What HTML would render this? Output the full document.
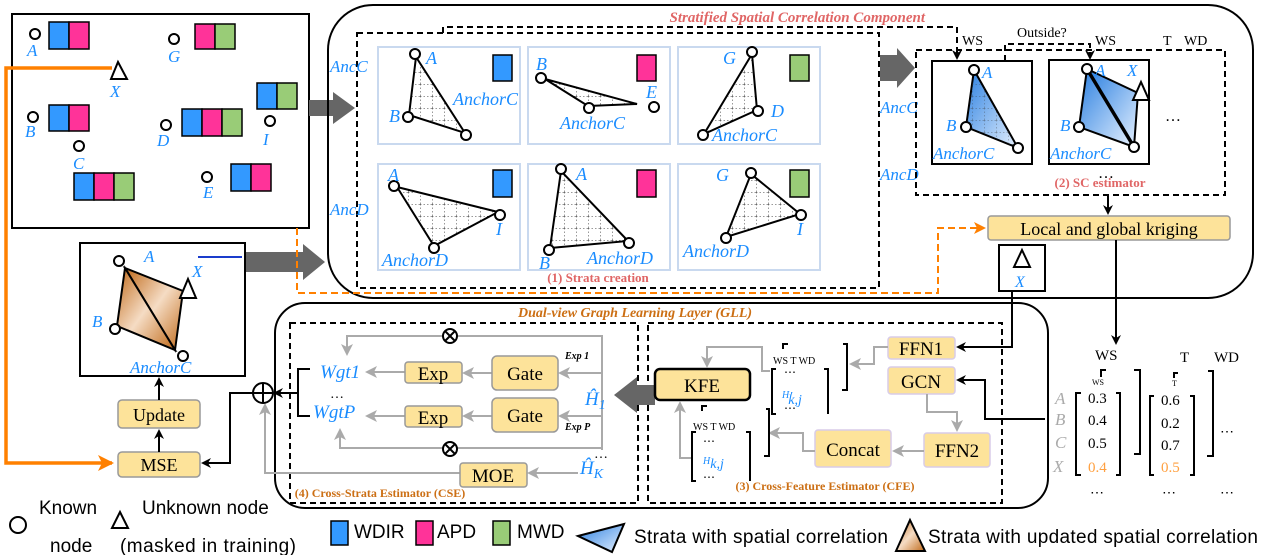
<!DOCTYPE html>
<html><head><meta charset="utf-8"><style>
html,body{margin:0;padding:0;background:#fff;}
svg{display:block;}
text{font-family:"Liberation Serif",serif;}
.bl{fill:#1a8cff;font-style:italic;}
.sn text{font-family:"Liberation Sans",sans-serif;}
</style></head><body>
<svg width="1261" height="555" viewBox="0 0 1261 555" xmlns="http://www.w3.org/2000/svg">
<defs>
<marker id="ab" markerWidth="10" markerHeight="10" refX="8" refY="5" orient="auto" markerUnits="userSpaceOnUse"><path d="M0,0 L10,5 L0,10 L3,5 z" fill="#000"/></marker>
<marker id="ag" markerWidth="12" markerHeight="12" refX="10" refY="6" orient="auto" markerUnits="userSpaceOnUse"><path d="M0,0 L12,6 L0,12 L3,6 z" fill="#aaa"/></marker>
<marker id="ao" markerWidth="16" markerHeight="16" refX="14" refY="8" orient="auto" markerUnits="userSpaceOnUse"><path d="M0,0 L16,8 L0,16 L4,8 z" fill="#ff8000"/></marker>
<marker id="aod" markerWidth="12" markerHeight="12" refX="10" refY="6" orient="auto" markerUnits="userSpaceOnUse"><path d="M0,0 L12,6 L0,12 L3,6 z" fill="#ff8000"/></marker>
<linearGradient id="gb" x1="0" y1="0" x2="1" y2="1"><stop offset="0" stop-color="#2a7fe0"/><stop offset="1" stop-color="#e6f1ff"/></linearGradient>
<linearGradient id="go" x1="0" y1="0" x2="1" y2="1"><stop offset="0" stop-color="#c06a1a"/><stop offset="0.5" stop-color="#f5dcc4"/><stop offset="1" stop-color="#c06a1a"/></linearGradient>
<pattern id="dot" width="12" height="12" patternUnits="userSpaceOnUse"><path d="M0,0 H12 M0,0 V12" stroke="#333" stroke-width="1" stroke-dasharray="1.5,2" fill="none"/></pattern>
</defs>

<rect x="12" y="14" width="297" height="214" fill="#fff" stroke="#000" stroke-width="2"/>
<g stroke="#000" stroke-width="1.5">
<rect x="49" y="22" width="20" height="27" fill="#3399ff"/><rect x="69" y="22" width="20" height="27" fill="#ff3399"/>
<rect x="195" y="24" width="20" height="25" fill="#ff3399"/><rect x="215" y="24" width="20" height="25" fill="#99cc77"/>
<rect x="49" y="105" width="20" height="26" fill="#3399ff"/><rect x="69" y="105" width="20" height="26" fill="#ff3399"/>
<rect x="182" y="109" width="20" height="27" fill="#3399ff"/><rect x="202" y="109" width="20" height="27" fill="#ff3399"/><rect x="222" y="109" width="20" height="27" fill="#99cc77"/>
<rect x="257" y="83" width="20" height="26" fill="#3399ff"/><rect x="277" y="83" width="20" height="26" fill="#99cc77"/>
<rect x="74" y="173" width="20" height="27" fill="#3399ff"/><rect x="94" y="173" width="20" height="27" fill="#ff3399"/><rect x="114" y="173" width="20" height="27" fill="#99cc77"/>
<rect x="231" y="164" width="20" height="27" fill="#3399ff"/><rect x="251" y="164" width="20" height="27" fill="#ff3399"/>
</g>
<g fill="#fff" stroke="#000" stroke-width="2">
<circle cx="35" cy="34" r="5"/><circle cx="174" cy="39" r="5"/><circle cx="33" cy="117" r="5"/><circle cx="166" cy="125" r="5"/><circle cx="270" cy="121" r="5"/><circle cx="79" cy="146" r="5"/><circle cx="207" cy="177" r="5"/>
<path d="M118,62 L127,79 L111,79 z"/>
</g>
<g class="bl" font-size="17">
<text x="27" y="56">A</text><text x="168" y="62">G</text><text x="110" y="97">X</text><text x="25" y="137">B</text><text x="157" y="146">D</text><text x="263" y="145">I</text><text x="73" y="169">C</text><text x="203" y="198">E</text>
</g>
<path d="M112,68 H6 V463 H112" fill="none" stroke="#ff8000" stroke-width="3.5" marker-end="url(#ao)"/>

<path d="M309,100 H333 V92 L355,108 L333,124 V116 H309 z" fill="#666"/>
<path d="M245,252 H303 V244 L325,262 L303,280 V272 H245 z" fill="#666"/>

<rect x="80" y="243" width="165" height="133" fill="#fff" stroke="#000" stroke-width="2"/>
<line x1="198" y1="257" x2="242" y2="257" stroke="#1a3ccc" stroke-width="2"/>
<path d="M125,268 L183,291 L175,350 z" fill="url(#go)" stroke="#000" stroke-width="2"/>
<path d="M125,268 L117,326 L175,350 z" fill="url(#go)" stroke="#000" stroke-width="2"/>
<g fill="#fff" stroke="#000" stroke-width="2"><circle cx="119" cy="261" r="5"/><circle cx="115" cy="329" r="5"/><circle cx="183" cy="356" r="5"/><path d="M188,279 L196,298 L180,298 z"/></g>
<g class="bl" font-size="17"><text x="144" y="262">A</text><text x="192" y="277">X</text><text x="92" y="327">B</text><text x="130" y="373">AnchorC</text></g>

<rect x="118" y="400" width="82" height="28" rx="4" fill="#fde39a" stroke="#999" stroke-width="1.5"/>
<text x="159" y="421" font-size="18" text-anchor="middle">Update</text>
<rect x="118" y="452" width="82" height="25" rx="4" fill="#fde39a" stroke="#999" stroke-width="1.5"/>
<text x="159" y="471" font-size="18" text-anchor="middle">MSE</text>
<line x1="159" y1="452" x2="159" y2="431" stroke="#000" stroke-width="2" marker-end="url(#ab)"/>
<line x1="159" y1="400" x2="159" y2="379" stroke="#000" stroke-width="2" marker-end="url(#ab)"/>

<rect x="328" y="5" width="925" height="293" rx="45" fill="none" stroke="#000" stroke-width="2"/>
<text x="925" y="22" font-size="15" font-weight="bold" font-style="italic" fill="#e06666" text-anchor="end">Stratified Spatial Correlation Component</text>
<rect x="357" y="33" width="522" height="255" fill="none" stroke="#000" stroke-width="2" stroke-dasharray="6,4"/>
<path d="M443,33 V27 H957 V58" fill="none" stroke="#000" stroke-width="2" stroke-dasharray="6,4" marker-end="url(#ab)"/>
<path d="M1005,61 V44 H1090 V58" fill="none" stroke="#000" stroke-width="2" stroke-dasharray="6,4" marker-end="url(#ab)"/>
<path d="M297,228 V293 H938 V228 H984" fill="none" stroke="#ff8000" stroke-width="2" stroke-dasharray="7,4" marker-end="url(#aod)"/>
<g class="bl" font-size="17"><text x="330" y="72">AncC</text><text x="330" y="215">AncD</text><text x="880" y="113">AncC</text><text x="880" y="180">AncD</text></g>

<g fill="#fff" stroke="#c9d9ef" stroke-width="2">
<rect x="378" y="47" width="142" height="97"/><rect x="528" y="47" width="142" height="97"/><rect x="678" y="47" width="142" height="97"/>
<rect x="378" y="164" width="142" height="106"/><rect x="528" y="164" width="142" height="106"/><rect x="678" y="164" width="142" height="106"/>
</g>
<g stroke="#000" stroke-width="1.5">
<rect x="493" y="55" width="19" height="26" fill="#3399ff"/><rect x="637" y="55" width="19" height="26" fill="#ff3399"/><rect x="790" y="55" width="19" height="26" fill="#99cc77"/>
<rect x="493" y="170" width="19" height="27" fill="#3399ff"/><rect x="637" y="170" width="19" height="27" fill="#ff3399"/><rect x="790" y="170" width="19" height="27" fill="#99cc77"/>
</g>
<g fill="url(#dot)" stroke="#000" stroke-width="2">
<path d="M416,57 L409,115 L465,133 z"/>
<path d="M545,79 L588,106 L637,104 z"/>
<path d="M752,54 L757,110 L704,134 z"/>
<path d="M397,187 L498,212 L434,246 z"/>
<path d="M561,171 L550,248 L628,241 z"/>
<path d="M751,174 L800,214 L726,237 z"/>
</g>
<g fill="#fff" stroke="#000" stroke-width="2">
<circle cx="415" cy="54" r="5"/><circle cx="408" cy="117" r="5"/><circle cx="466" cy="135" r="5"/>
<circle cx="541" cy="78" r="5"/><circle cx="589" cy="108" r="5"/><circle cx="654" cy="107" r="5"/>
<circle cx="752" cy="52" r="5"/><circle cx="758" cy="111" r="5"/><circle cx="703" cy="135" r="5"/>
<circle cx="394" cy="186" r="5"/><circle cx="500" cy="215" r="5"/><circle cx="434" cy="248" r="5"/>
<circle cx="561" cy="169" r="5"/><circle cx="549" cy="250" r="5"/><circle cx="629" cy="243" r="5"/>
<circle cx="751" cy="173" r="5"/><circle cx="801" cy="215" r="5"/><circle cx="726" cy="238" r="5"/>
</g>
<g class="bl" font-size="18">
<text x="426" y="64">A</text><text x="389" y="122">B</text><text x="453" y="105">AnchorC</text>
<text x="536" y="70">B</text><text x="646" y="98">E</text><text x="560" y="129">AnchorC</text>
<text x="723" y="64">G</text><text x="771" y="117">D</text><text x="712" y="141">AnchorC</text>
<text x="388" y="181">A</text><text x="496" y="235">I</text><text x="382" y="266">AnchorD</text>
<text x="576" y="180">A</text><text x="539" y="269">B</text><text x="587" y="264">AnchorD</text>
<text x="716" y="181">G</text><text x="797" y="235">I</text><text x="683" y="257">AnchorD</text>
</g>
<text x="598" y="282" font-size="13" font-weight="bold" fill="#e06666" text-anchor="middle">(1)  Strata creation</text>

<path d="M880,55 H897 V48 L915,68 L897,88 V81 H880 z" fill="#666"/>
<rect x="916" y="50" width="309" height="145" fill="none" stroke="#000" stroke-width="2" stroke-dasharray="6,4"/>
<rect x="932" y="61" width="100" height="103" fill="#fff" stroke="#000" stroke-width="2"/>
<rect x="1049" y="60" width="100" height="104" fill="#fff" stroke="#000" stroke-width="2"/>
<path d="M974,70 L966,127 L1018,148 z" fill="url(#gb)" stroke="#000" stroke-width="2"/>
<path d="M974,70 L966,127 L1018,148 z" fill="url(#dot)" opacity="0.6"/>
<path d="M1087,69 L1138,93 L1134,147 z" fill="url(#gb)" stroke="#000" stroke-width="2"/>
<path d="M1087,69 L1079,127 L1134,147 z" fill="url(#gb)" stroke="#000" stroke-width="2"/>
<line x1="1087" y1="69" x2="1134" y2="147" stroke="#000" stroke-width="3.5"/>
<g fill="#fff" stroke="#000" stroke-width="2"><circle cx="974" cy="70" r="5"/><circle cx="966" cy="127" r="5"/><circle cx="1018" cy="148" r="5"/><circle cx="1087" cy="69" r="5"/><circle cx="1079" cy="127" r="5"/><circle cx="1134" cy="147" r="5"/><path d="M1141,82 L1149,100 L1133,100 z"/></g>
<g class="bl" font-size="17"><text x="982" y="78">A</text><text x="946" y="131">B</text><text x="933" y="159">AnchorC</text><text x="1095" y="76">A</text><text x="1127" y="76">X</text><text x="1060" y="131">B</text><text x="1050" y="159">AnchorC</text></g>
<text x="1165" y="121" font-size="16">…</text>
<text x="1098" y="178" font-size="16">…</text>
<text x="1100" y="187" font-size="13" font-weight="bold" fill="#e06666" text-anchor="middle">(2) SC estimator</text>
<g font-size="14"><text x="962" y="45">WS</text><text x="1017" y="37">Outside?</text><text x="1095" y="45">WS</text><text x="1163" y="45">T</text><text x="1184" y="45">WD</text></g>
<line x1="1108" y1="195" x2="1108" y2="213" stroke="#000" stroke-width="2" marker-end="url(#ab)"/>
<rect x="988" y="216" width="242" height="24" rx="3" fill="#fde39a" stroke="#999" stroke-width="1.5"/>
<text x="1109" y="235" font-size="18" text-anchor="middle">Local and global kriging</text>
<rect x="999" y="245" width="46" height="46" fill="#fff" stroke="#000" stroke-width="2"/>
<path d="M1022,250 L1030,267 L1014,267 z" fill="#fff" stroke="#000" stroke-width="2"/>
<text x="1015" y="287" class="bl" font-size="16">X</text>
<line x1="1116" y1="240" x2="1116" y2="343" stroke="#000" stroke-width="2" marker-end="url(#ab)"/>
<path d="M1012,291 V347 H958" fill="none" stroke="#000" stroke-width="2" marker-end="url(#ab)"/>

<rect x="275" y="303" width="773" height="205" rx="30" fill="none" stroke="#000" stroke-width="2"/>
<text x="635" y="317" font-size="14" font-weight="bold" font-style="italic" fill="#cc6f14" text-anchor="middle">Dual-view Graph Learning Layer (GLL)</text>
<rect x="290" y="323" width="348" height="180" fill="none" stroke="#000" stroke-width="2" stroke-dasharray="6,4"/>
<rect x="648" y="323" width="354" height="180" fill="none" stroke="#000" stroke-width="2" stroke-dasharray="6,4"/>

<g fill="none" stroke="#aaa" stroke-width="2">
<path d="M602,335 V450"/>
<path d="M602,336 H347 V354" marker-end="url(#ag)"/>
<path d="M602,448 H340 V430" marker-end="url(#ag)"/>
<path d="M602,373 H560" marker-end="url(#ag)"/>
<path d="M602,416 H560" marker-end="url(#ag)"/>
<path d="M492,373 H464" marker-end="url(#ag)"/>
<path d="M492,416 H464" marker-end="url(#ag)"/>
<path d="M405,372 H367" marker-end="url(#ag)"/>
<path d="M405,416 H367" marker-end="url(#ag)"/>
<path d="M578,473 H529" marker-end="url(#ag)"/>
<path d="M460,473 H265 V405" marker-end="url(#ag)"/>
</g>
<g fill="#fff" stroke="#000" stroke-width="2"><circle cx="450" cy="336" r="7"/><circle cx="450" cy="449" r="7"/></g>
<g stroke="#000" stroke-width="2"><path d="M445,331 L455,341 M455,331 L445,341 M445,444 L455,454 M455,444 L445,454"/></g>
<rect x="492" y="356" width="66" height="34" rx="5" fill="#fde39a" stroke="#999" stroke-width="1.5"/>
<rect x="492" y="398" width="66" height="34" rx="5" fill="#fde39a" stroke="#999" stroke-width="1.5"/>
<rect x="405" y="362" width="57" height="21" rx="3" fill="#fde39a" stroke="#999" stroke-width="1.5"/>
<rect x="405" y="406" width="57" height="21" rx="3" fill="#fde39a" stroke="#999" stroke-width="1.5"/>
<rect x="460" y="463" width="67" height="24" rx="3" fill="#fde39a" stroke="#999" stroke-width="1.5"/>
<g font-size="19" text-anchor="middle"><text x="525" y="380">Gate</text><text x="525" y="422">Gate</text><text x="433" y="380">Exp</text><text x="433" y="424">Exp</text><text x="493" y="482">MOE</text></g>
<g font-size="10" font-weight="bold" font-style="italic"><text x="565" y="359">Exp 1</text><text x="565" y="430">Exp P</text></g>
<g class="bl" font-size="19"><text x="320" y="378">Wgt1</text><text x="313" y="418">WgtP</text><text x="585" y="405">Ĥ<tspan font-size="14" dy="4">1</tspan></text><text x="580" y="474">Ĥ<tspan font-size="14" dy="4">K</tspan></text></g>
<text x="330" y="398" font-size="14">…</text>
<text x="594" y="458" font-size="14">…</text>
<text x="380" y="497" font-size="12" font-weight="bold" fill="#cc6f14" text-anchor="middle">(4) Cross-Strata Estimator (CSE)</text>
<path d="M310,369 H298 V416 H310" fill="none" stroke="#000" stroke-width="2"/>
<line x1="298" y1="393" x2="275" y2="393" stroke="#000" stroke-width="2" marker-end="url(#ab)"/>
<circle cx="263" cy="393" r="10" fill="#fff" stroke="#000" stroke-width="2"/>
<path d="M253,393 H273 M263,383 V403" stroke="#000" stroke-width="2"/>
<path d="M253,393 H230 V463 H203" fill="none" stroke="#000" stroke-width="2" marker-end="url(#ab)"/>

<path d="M655,385 H637 V377 L614,395 L637,413 V405 H655 z" fill="#666"/>

<rect x="655" y="369" width="95" height="31" rx="5" fill="#fde39a" stroke="#000" stroke-width="2.5"/>
<text x="702" y="392" font-size="19" text-anchor="middle">KFE</text>
<g fill="#fde39a" stroke="#d8cce8" stroke-width="1.5">
<rect x="888" y="337" width="67" height="22" rx="3"/><rect x="888" y="367" width="67" height="27" rx="3"/><rect x="924" y="433" width="66" height="34" rx="3"/><rect x="815" y="430" width="76" height="37" rx="3"/>
</g>
<g font-size="19" text-anchor="middle"><text x="921" y="355">FFN1</text><text x="921" y="388">GCN</text><text x="957" y="457">FFN2</text><text x="853" y="456">Concat</text></g>
<g fill="none" stroke="#aaa" stroke-width="2">
<path d="M888,347 H874 V364 H851" marker-end="url(#ag)"/>
<path d="M927,394 V412 H957 V430" marker-end="url(#ag)"/>
<path d="M924,451 H894" marker-end="url(#ag)"/>
<path d="M815,451 H803 V433 H770" marker-end="url(#ag)"/>
<path d="M770,371 H762 V347 H707 V366" marker-end="url(#ag)"/>
<path d="M693,458 H680 V403" marker-end="url(#ag)"/>
</g>
<g fill="none" stroke="#000" stroke-width="2">
<path d="M783,349 V344 H788 M843,344 H847 V390 H842"/>
<path d="M776,369 H772 V414 H776 M824,369 H828 V414"/>
<path d="M702,411 V406 H707 M766,409 H769 V456 H764"/>
<path d="M696,432 H692 V481 H696 M746,432 H750 V481"/>
</g>
<g font-size="10"><text x="773" y="364">WS T WD</text><text x="693" y="430">WS T WD</text></g>
<text x="784" y="376" font-size="12">⋯</text><text x="784" y="412" font-size="12">⋯</text>
<text x="703" y="445" font-size="12">⋯</text><text x="703" y="481" font-size="12">⋯</text>
<text x="782" y="398" class="bl" font-size="10">H<tspan font-size="14" dy="3">′</tspan><tspan font-size="14" dx="-4" dy="3">k,j</tspan></text>
<text x="703" y="464" class="bl" font-size="10">H<tspan font-size="14" dy="4">k,j</tspan></text>
<text x="825" y="490" font-size="12" font-weight="bold" fill="#cc6f14" text-anchor="middle">(3) Cross-Feature Estimator (CFE)</text>

<path d="M1045,419 H985 V380 H958" fill="none" stroke="#000" stroke-width="2" marker-end="url(#ab)"/>

<g font-size="15"><text x="1095" y="360">WS</text><text x="1180" y="362">T</text><text x="1214" y="362">WD</text></g>
<g font-size="17" font-style="italic" fill="#aaa"><text x="1055" y="404">A</text><text x="1055" y="425">B</text><text x="1055" y="448">C</text><text x="1053" y="472">X</text></g>
<g fill="none" stroke="#000" stroke-width="2">
<path d="M1081,393 H1076 V475 H1081 M1116,393 H1120 V475 H1116"/>
<path d="M1154,396 H1150 V475 H1154 M1190,396 H1194 V475 H1190"/>
<path d="M1101,377 V370 H1106 M1134,370 H1140 V454 H1134"/>
<path d="M1174,378 V373 H1178 M1208,371 H1213 V456 H1207"/>
</g>
<g font-size="8"><text x="1092" y="385">WS</text><text x="1172" y="386">T</text></g>
<g font-size="15"><text x="1088" y="403">0.3</text><text x="1088" y="425">0.4</text><text x="1088" y="448">0.5</text><text x="1088" y="472" fill="#ffa040">0.4</text>
<text x="1161" y="405">0.6</text><text x="1161" y="428">0.2</text><text x="1161" y="450">0.7</text><text x="1161" y="472" fill="#ffa040">0.5</text></g>
<g font-size="14"><text x="1090" y="497">⋯</text><text x="1162" y="497">⋯</text><text x="1220" y="497">⋯</text><text x="1220" y="436">⋯</text></g>

<!-- legend -->
<circle cx="18" cy="525" r="8" fill="#fff" stroke="#000" stroke-width="2"/>
<g class="sn" font-size="19"><text x="39" y="514">Known</text><text x="50" y="552">node</text>
<text x="142" y="514">Unknown node</text><text x="120" y="552" textLength="176">(masked in training)</text>
<text x="354" y="538">WDIR</text><text x="437" y="538">APD</text><text x="517" y="538">MWD</text>
<text x="634" y="543" textLength="254">Strata with spatial correlation</text><text x="928" y="543" textLength="330">Strata with updated spatial correlation</text></g>
<path d="M120,512 L128,528 L112,528 z" fill="#fff" stroke="#000" stroke-width="2"/>
<g stroke="#000" stroke-width="1.5"><rect x="331" y="521" width="17" height="24" fill="#3399ff"/><rect x="416" y="521" width="17" height="24" fill="#ff3399"/><rect x="493" y="521" width="17" height="24" fill="#99cc77"/></g>
<path d="M578,536 L624,524 L612,552 z" fill="url(#gb)" stroke="#000" stroke-width="2"/>
<path d="M896,551 L910,520 L925,551 z" fill="url(#go)" stroke="#000" stroke-width="2"/>
</svg>
</body></html>
